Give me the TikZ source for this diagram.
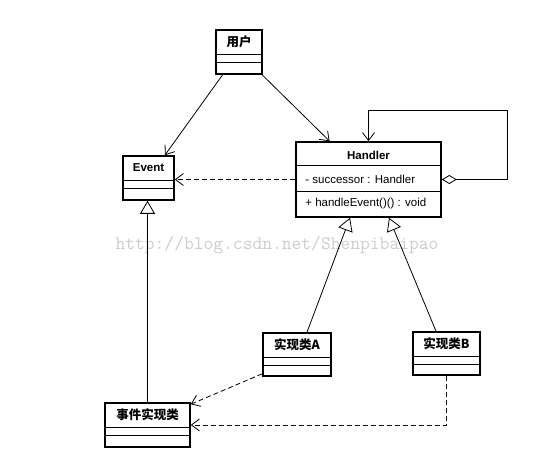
\documentclass[tikz,border=0pt]{standalone}
\usepackage{fontspec}
\setmainfont{Liberation Sans}
\newfontfamily\cjk{Noto Sans CJK SC}
\usetikzlibrary{calc}
\usetikzlibrary{arrows.meta}
\tikzset{
  class box/.style={draw, rectangle, line width=1.6pt, inner sep=0pt},
  class title/.style={font=\fontsize{11.5}{13}\selectfont\bfseries, inner sep=0pt},
  class line/.style={line width=0.8pt},
  assoc/.style={line width=0.8pt, -{Straight Barb[length=8pt,width=12pt]}},
  depend/.style={assoc, dash pattern=on 5pt off 3pt},
  inherit/.style={line width=0.8pt, -{Triangle[open,length=13pt,width=15pt,fill=white]}},
}
\newcommand{\classbox}[5]{%
  \node[class box, minimum width=#3, minimum height=#4] (#1) at (#2) {};
  \draw[class line] ($(#1.north west)+(0,-25)$) -- ($(#1.north east)+(0,-25)$);
  \draw[class line] ($(#1.north west)+(0,-33)$) -- ($(#1.north east)+(0,-33)$);
  \node[class title] (#1-title) at ($(#1.north)+(0,-12.5)$) {#5};
}
\newcommand{\Cj}{\cjk\fontsize{12.5}{14}\selectfont}

\begin{document}
\begin{tikzpicture}[x=1pt, y=1pt, font=\fontsize{11.5}{13}\selectfont]
\useasboundingbox (0,0) rectangle (535,468);

%%%%%%%%%%%%%%%%%%%%%%%%%%%%%%%%%%%%%%%%%%%%%%%%%%%%%%%%%%%%%% watermark
\node[text=gray!40, font=\ttfamily\fontsize{19}{21}\selectfont] (mark) at (277,223) {http://blog.csdn.net/Shenpibaipao};

%%%%%%%%%%%%%%%%%%%%%%%%%%%%%%%%%%%%%%%%%%%%%%%%%%%%%%%%%%%%%% classes
\classbox{user}{239,416}{46pt}{44pt}{\Cj 用户}
\classbox{event}{148.5,290}{51pt}{44pt}{Event}
\classbox{impl}{147.5,43}{85pt}{44pt}{\Cj 事件实现类}
\classbox{implA}{297,113.5}{68pt}{43pt}{\Cj 实现类A}
\classbox{implB}{446.5,114.5}{67pt}{43pt}{\Cj 实现类B}

%%%%%%%%%%%%%%%%%%%%%%%%%%%%%%%%%%%%%%%%%%%%%%%%%%%%%%%%%%%%%% handler
\node[class box, minimum width=145pt, minimum height=75pt] (handler) at (368.5,288.5) {};
\draw[class line] ($(handler.north west)+(0,-24)$) -- ($(handler.north east)+(0,-24)$);
\draw[class line] ($(handler.north west)+(0,-50)$) -- ($(handler.north east)+(0,-50)$);
\node[class title] (handler-title) at ($(handler.north)+(0,-14)$) {Handler};
\node[anchor=west, inner sep=0pt] (handler-attr) at ($(handler.north west)+(10,-38)$) {- successor : Handler};
\node[anchor=west, inner sep=0pt] (handler-op) at ($(handler.north west)+(10,-62)$) {+ handleEvent()() : void};

%%%%%%%%%%%%%%%%%%%%%%%%%%%%%%%%%%%%%%%%%%%%%%%%%%%%%%%%%%%%%% links
\draw[assoc] (user) -- (event);
\draw[assoc] (user) -- (handler);
\draw[depend] (handler.west) -- (handler.west -| event.east);
\draw[line width=0.8pt, {Diamond[open,length=15pt,width=9pt,fill=white]}-{Straight Barb[length=8pt,width=12pt]}]
  (handler.east) -- ++(66,0) |- ($(handler.north)+(0,31)$) -- (handler.north);

\draw[inherit] (impl.north) -- (impl.north |- event.south);
\draw[inherit] ($(implA.north)+(10,0)$) -- ($(handler.south)+(-18.5,0)$);
\draw[inherit] ($(implB.north)+(-10.5,0)$) -- ($(handler.south)+(20.5,0)$);

\draw[depend] ($(implA.south west)+(0,3)$) -- ($(impl.north east)+(0,-2)$);
\draw[depend] (implB.south) |- (impl.east);

\end{tikzpicture}
\end{document}
